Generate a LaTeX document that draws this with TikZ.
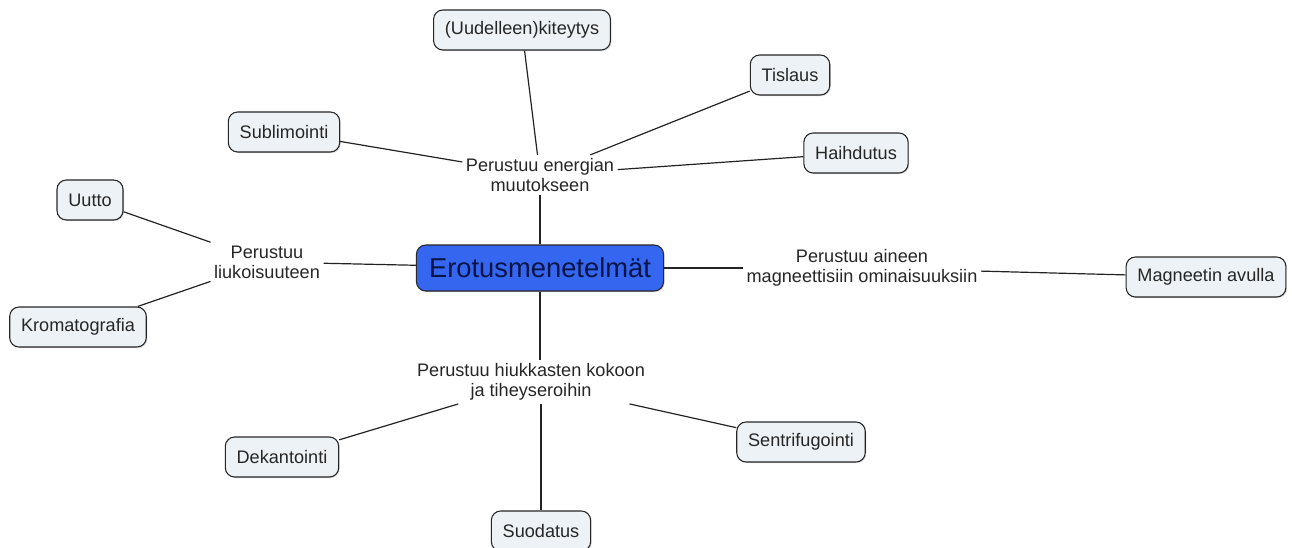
\documentclass[tikz,border=0pt]{standalone}
\usepackage{fontspec}
\setmainfont{Liberation Sans}
\usetikzlibrary{shadows}
\definecolor{conceptfill}{RGB}{236,242,245}
\definecolor{rootblue}{RGB}{52,102,240}
\definecolor{rootink}{RGB}{10,20,70}
\definecolor{linkdark}{RGB}{35,35,35}

\begin{document}
\begin{tikzpicture}[
    x=0.75pt, y=-0.75pt,
    every node/.style={font=\fontsize{13.6}{14.8}\selectfont, align=center, text=black!85},
    concept/.style={rectangle, draw=black!85, fill=conceptfill, rounded corners=7pt, minimum height=30pt, inner xsep=8.5pt, line width=0.8pt, drop shadow={shadow xshift=0.8pt, shadow yshift=-0.8pt, opacity=0.3}},
    root/.style={concept, fill=rootblue, text=rootink, minimum height=34.5pt, inner xsep=9.5pt, font=\fontsize{20.5}{24}\selectfont},
    linklabel/.style={inner sep=2.5pt},
    link/.style={draw=linkdark, line width=0.9pt}
]
    \useasboundingbox (0,0) rectangle (1292,547);

    \node[root] (erot) at (540,268) {Erotusmenetelmät};

    % linking phrases
    \node[linklabel] (energia) at (540,175) {Perustuu energian\\muutokseen};
    \node[linklabel] (liukoisuus) at (267,262) {Perustuu\\liukoisuuteen};
    \node[linklabel] (magneetti) at (862,268) {Perustuu aineen\\magneettisiin ominaisuuksiin};
    \node[linklabel] (koko) at (531,382) {Perustuu hiukkasten kokoon\\ja tiheyseroihin};

    % concepts
    \node[concept] (kiteytys) at (522,30) {(Uudelleen)kiteytys};
    \node[concept] (tislaus) at (790,75) {Tislaus};
    \node[concept] (sublimointi) at (284,132) {Sublimointi};
    \node[concept] (haihdutus) at (856,153) {Haihdutus};
    \node[concept] (uutto) at (90,200) {Uutto};
    \node[concept] (kromatografia) at (78,327) {Kromatografia};
    \node[concept] (magneetin) at (1206,277) {Magneetin avulla};
    \node[concept] (dekantointi) at (282,457) {Dekantointi};
    \node[concept] (sentrifugointi) at (801,442) {Sentrifugointi};
    \node[concept] (suodatus) at (541,531) {Suodatus};

    \draw[link] (erot) -- (energia);
    \draw[link] (energia) -- (kiteytys);
    \draw[link] (energia) -- (tislaus);
    \draw[link] (energia) -- (sublimointi);
    \draw[link] (energia) -- (haihdutus);
    \draw[link] (erot) -- (liukoisuus);
    \draw[link] (liukoisuus) -- (uutto);
    \draw[link] (liukoisuus) -- (kromatografia);
    \draw[link] (erot) -- (magneetti);
    \draw[link] (magneetti) -- (magneetin);
    \draw[link] (erot.south) -- (koko.north -| erot.south);
    \draw[link] (koko) -- (dekantointi);
    \draw[link] (koko) -- (sentrifugointi);
    \draw[link] (koko.south -| suodatus.north) -- (suodatus);
\end{tikzpicture}
\end{document}
